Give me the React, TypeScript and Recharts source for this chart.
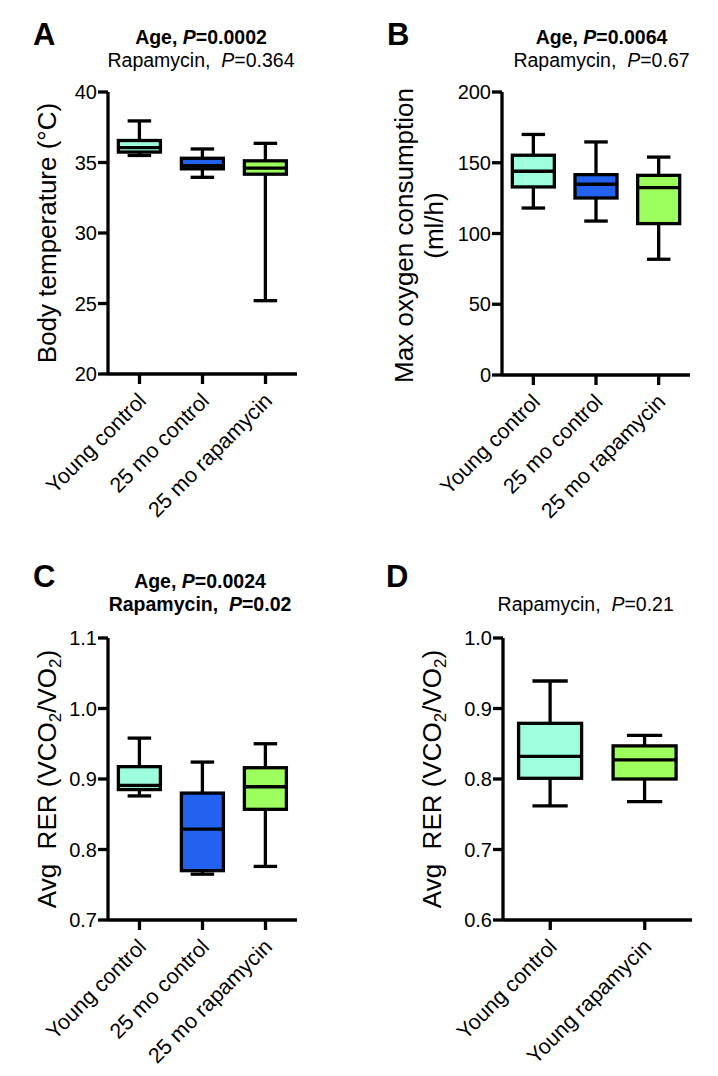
import React from 'react';
import { ComposedChart, Bar, XAxis, YAxis } from 'recharts';

const FONT = '"Liberation Sans", Arial, Helvetica, sans-serif';

// Panel A - body temperature
const tempGroups = ['Young control', '25 mo control', '25 mo rapamycin'];
const tempMin = [35.5, 33.95, 25.2];
const tempQ1 = [35.74, 34.55, 34.17];
const tempMedian = [36.05, 34.77, 34.6];
const tempQ3 = [36.56, 35.3, 35.12];
const tempMax = [37.95, 35.96, 36.36];
const tempTicks = [20, 25, 30, 35, 40];

// Panel B - max oxygen consumption
const vo2Groups = ['Young control', '25 mo control', '25 mo rapamycin'];
const vo2Min = [118, 108.8, 81.8];
const vo2Q1 = [132.9, 125.1, 107];
const vo2Median = [144, 134.8, 132.4];
const vo2Q3 = [155.3, 141.6, 141.1];
const vo2Max = [170, 164.7, 154];
const vo2Ticks = [0, 50, 100, 150, 200];

// Panel C - RER, aged cohort
const rerOldGroups = ['Young control', '25 mo control', '25 mo rapamycin'];
const rerOldMin = [0.876, 0.765, 0.776];
const rerOldQ1 = [0.885, 0.77, 0.857];
const rerOldMedian = [0.891, 0.829, 0.889];
const rerOldQ3 = [0.9175, 0.88, 0.916];
const rerOldMax = [0.958, 0.924, 0.95];
const rerOldTicks = [0.7, 0.8, 0.9, 1.0, 1.1];

// Panel D - RER, young cohort
const rerYoungGroups = ['Young control', 'Young rapamycin'];
const rerYoungMin = [0.762, 0.768];
const rerYoungQ1 = [0.801, 0.8];
const rerYoungMedian = [0.832, 0.827];
const rerYoungQ3 = [0.879, 0.847];
const rerYoungMax = [0.939, 0.862];
const rerYoungTicks = [0.6, 0.7, 0.8, 0.9, 1.0];

const groupColors: Record<string, string> = {
  'Young control': '#9effde',
  '25 mo control': '#2262ef',
  '25 mo rapamycin': '#9cff5e',
  'Young rapamycin': '#9cff5e',
};

const STROKE = 3.3;
const LABEL_SIZE = 26;

function buildRows(groups: string[], mins: number[], q1s: number[], meds: number[], q3s: number[], maxs: number[]) {
  return groups.map((g, i) => ({
    name: g,
    min: mins[i],
    q1: q1s[i],
    median: meds[i],
    q3: q3s[i],
    max: maxs[i],
    fill: groupColors[g],
  }));
}

// box + whiskers drawn inside the [min, max] range bar
const BoxShape = (props: any) => {
  const { x, y, width, height, payload } = props;
  if (!payload) return null;
  const { min, q1, median, q3, max, fill } = payload;
  const top = Math.min(y, y + height);
  const k = Math.abs(height) / (max - min);
  const py = (v: number) => top + (max - v) * k;
  const cx = x + width / 2;
  const cap = width * 0.56;
  return (
    <g stroke="#000" strokeWidth={STROKE}>
      <line x1={cx} x2={cx} y1={py(max)} y2={py(min)} />
      <line x1={cx - cap / 2} x2={cx + cap / 2} y1={py(max)} y2={py(max)} />
      <line x1={cx - cap / 2} x2={cx + cap / 2} y1={py(min)} y2={py(min)} />
      <rect x={x} y={py(q3)} width={width} height={py(q1) - py(q3)} fill={fill} />
      <line x1={x} x2={x + width} y1={py(median)} y2={py(median)} />
    </g>
  );
};

const XTick = (props: any) => {
  const { x, y, payload } = props;
  const tx = x + 8;
  const ty = y + 16;
  return (
    <text x={tx} y={ty} transform={`rotate(-45 ${tx} ${ty})`} textAnchor="end" fontSize={21.5} fill="#000" fontFamily={FONT}>
      {payload.value}
    </text>
  );
};

const YTitle = (props: any) => {
  const { viewBox, lines, baseX, rer, shift } = props;
  const vb = viewBox || { x: 0, y: 0, width: 0, height: 0 };
  const cy = vb.y + vb.height / 2;
  if (rer) {
    const bx = vb.x + baseX[0];
    return (
      <text x={bx} y={cy} transform={`rotate(-90 ${bx} ${cy})`} textAnchor="middle" fontSize={LABEL_SIZE} fill="#000" fontFamily={FONT} style={{ whiteSpace: 'pre' }}>
        <tspan>{'Avg  RER (VCO'}</tspan>
        <tspan dy={5} fontSize={17}>2</tspan>
        <tspan dy={-5}>/VO</tspan>
        <tspan dy={5} fontSize={17}>2</tspan>
        <tspan dy={-5}>)</tspan>
      </text>
    );
  }
  return (
    <g>
      {lines.map((ln: string, i: number) => {
        const bx = vb.x + baseX[i];
        const yy = cy + (shift ? shift[i] : 0);
        return (
          <text key={i} x={bx} y={yy} transform={`rotate(-90 ${bx} ${yy})`} textAnchor="middle" fontSize={LABEL_SIZE} fill="#000" fontFamily={FONT}>
            {ln}
          </text>
        );
      })}
    </g>
  );
};

type PanelProps = {
  rows: any[];
  ticks: number[];
  domain: [number, number];
  margin: { top: number; right: number; left: number; bottom: number };
  yWidth: number;
  xHeight: number;
  fmt?: (v: number) => string;
  label: React.ReactElement;
};

function BoxPanel({ rows, ticks, domain, margin, yWidth, xHeight, fmt, label }: PanelProps) {
  return (
    <ComposedChart width={359} height={538} data={rows} margin={margin} barCategoryGap="16.5%">
      <XAxis
        dataKey="name"
        type="category"
        height={xHeight}
        interval={0}
        axisLine={{ stroke: '#000', strokeWidth: STROKE }}
        tickLine={{ stroke: '#000', strokeWidth: STROKE }}
        tickSize={10}
        tick={<XTick />}
      />
      <YAxis
        type="number"
        domain={domain}
        ticks={ticks}
        width={yWidth}
        interval={0}
        axisLine={{ stroke: '#000', strokeWidth: STROKE }}
        tickLine={{ stroke: '#000', strokeWidth: STROKE }}
        tickSize={10}
        tickMargin={1}
        tickFormatter={fmt}
        tick={{ fill: '#000', fontSize: 20, fontFamily: FONT }}
        label={label}
      />
      <Bar dataKey={(d: any) => [d.min, d.max]} shape={<BoxShape />} isAnimationActive={false} />
    </ComposedChart>
  );
}

const oneDecimal = (v: number) => v.toFixed(1);

export default function App() {
  const tempRows = buildRows(tempGroups, tempMin, tempQ1, tempMedian, tempQ3, tempMax);
  const vo2Rows = buildRows(vo2Groups, vo2Min, vo2Q1, vo2Median, vo2Q3, vo2Max);
  const rerOldRows = buildRows(rerOldGroups, rerOldMin, rerOldQ1, rerOldMedian, rerOldQ3, rerOldMax);
  const rerYoungRows = buildRows(rerYoungGroups, rerYoungMin, rerYoungQ1, rerYoungMedian, rerYoungQ3, rerYoungMax);

  const bold = { fontWeight: 700 };
  return (
    <div style={{ position: 'absolute', left: 0, top: 0, width: 718, height: 1076, background: '#fff', fontFamily: FONT }}>
      <div style={{ position: 'absolute', left: 0, top: 0 }}>
        <BoxPanel
          rows={tempRows}
          ticks={tempTicks}
          domain={[20, 40]}
          margin={{ top: 92, right: 62, left: 0, bottom: 0 }}
          yWidth={108}
          xHeight={164}
          label={<YTitle lines={['Body temperature (°C)']} baseX={[56]} />}
        />
      </div>
      <div style={{ position: 'absolute', left: 359, top: 0 }}>
        <BoxPanel
          rows={vo2Rows}
          ticks={vo2Ticks}
          domain={[0, 200]}
          margin={{ top: 92, right: 28, left: 0, bottom: 0 }}
          yWidth={143}
          xHeight={163}
          label={<YTitle lines={['Max oxygen consumption', '(ml/h)']} baseX={[54, 84]} shift={[2, -8]} />}
        />
      </div>
      <div style={{ position: 'absolute', left: 0, top: 538 }}>
        <BoxPanel
          rows={rerOldRows}
          ticks={rerOldTicks}
          domain={[0.7, 1.1]}
          margin={{ top: 100, right: 62, left: 0, bottom: 0 }}
          yWidth={108}
          xHeight={156}
          fmt={oneDecimal}
          label={<YTitle rer baseX={[56]} />}
        />
      </div>
      <div style={{ position: 'absolute', left: 359, top: 538 }}>
        <BoxPanel
          rows={rerYoungRows}
          ticks={rerYoungTicks}
          domain={[0.6, 1.0]}
          margin={{ top: 100, right: 26, left: 0, bottom: 0 }}
          yWidth={144}
          xHeight={156}
          fmt={oneDecimal}
          label={<YTitle rer baseX={[82]} />}
        />
      </div>

      <svg width={718} height={1076} style={{ position: 'absolute', left: 0, top: 0, pointerEvents: 'none' }} fontFamily={FONT} fill="#000">
        <text x={33} y={45} fontSize={31} style={bold}>A</text>
        <text x={387} y={45} fontSize={31} style={bold}>B</text>
        <text x={33} y={587} fontSize={31} style={bold}>C</text>
        <text x={386} y={587} fontSize={31} style={bold}>D</text>

        <text x={201} y={44} fontSize={19.5} textAnchor="middle" style={bold}>
          Age, <tspan fontStyle="italic">P</tspan>=0.0002
        </text>
        <text x={201} y={66.7} fontSize={19.5} textAnchor="middle" style={{ whiteSpace: 'pre' }}>
          {'Rapamycin,  '}<tspan fontStyle="italic">P</tspan>=0.364
        </text>

        <text x={601.5} y={44} fontSize={19.5} textAnchor="middle" style={bold}>
          Age, <tspan fontStyle="italic">P</tspan>=0.0064
        </text>
        <text x={601.5} y={66.7} fontSize={19.5} textAnchor="middle" style={{ whiteSpace: 'pre' }}>
          {'Rapamycin,  '}<tspan fontStyle="italic">P</tspan>=0.67
        </text>

        <text x={200} y={587.7} fontSize={19.5} textAnchor="middle" style={bold}>
          Age, <tspan fontStyle="italic">P</tspan>=0.0024
        </text>
        <text x={200} y={611} fontSize={19.5} textAnchor="middle" style={{ ...bold, whiteSpace: 'pre' }}>
          {'Rapamycin,  '}<tspan fontStyle="italic">P</tspan>=0.02
        </text>

        <text x={585.7} y={611} fontSize={19.5} textAnchor="middle" style={{ whiteSpace: 'pre' }}>
          {'Rapamycin,  '}<tspan fontStyle="italic">P</tspan>=0.21
        </text>
      </svg>
    </div>
  );
}
